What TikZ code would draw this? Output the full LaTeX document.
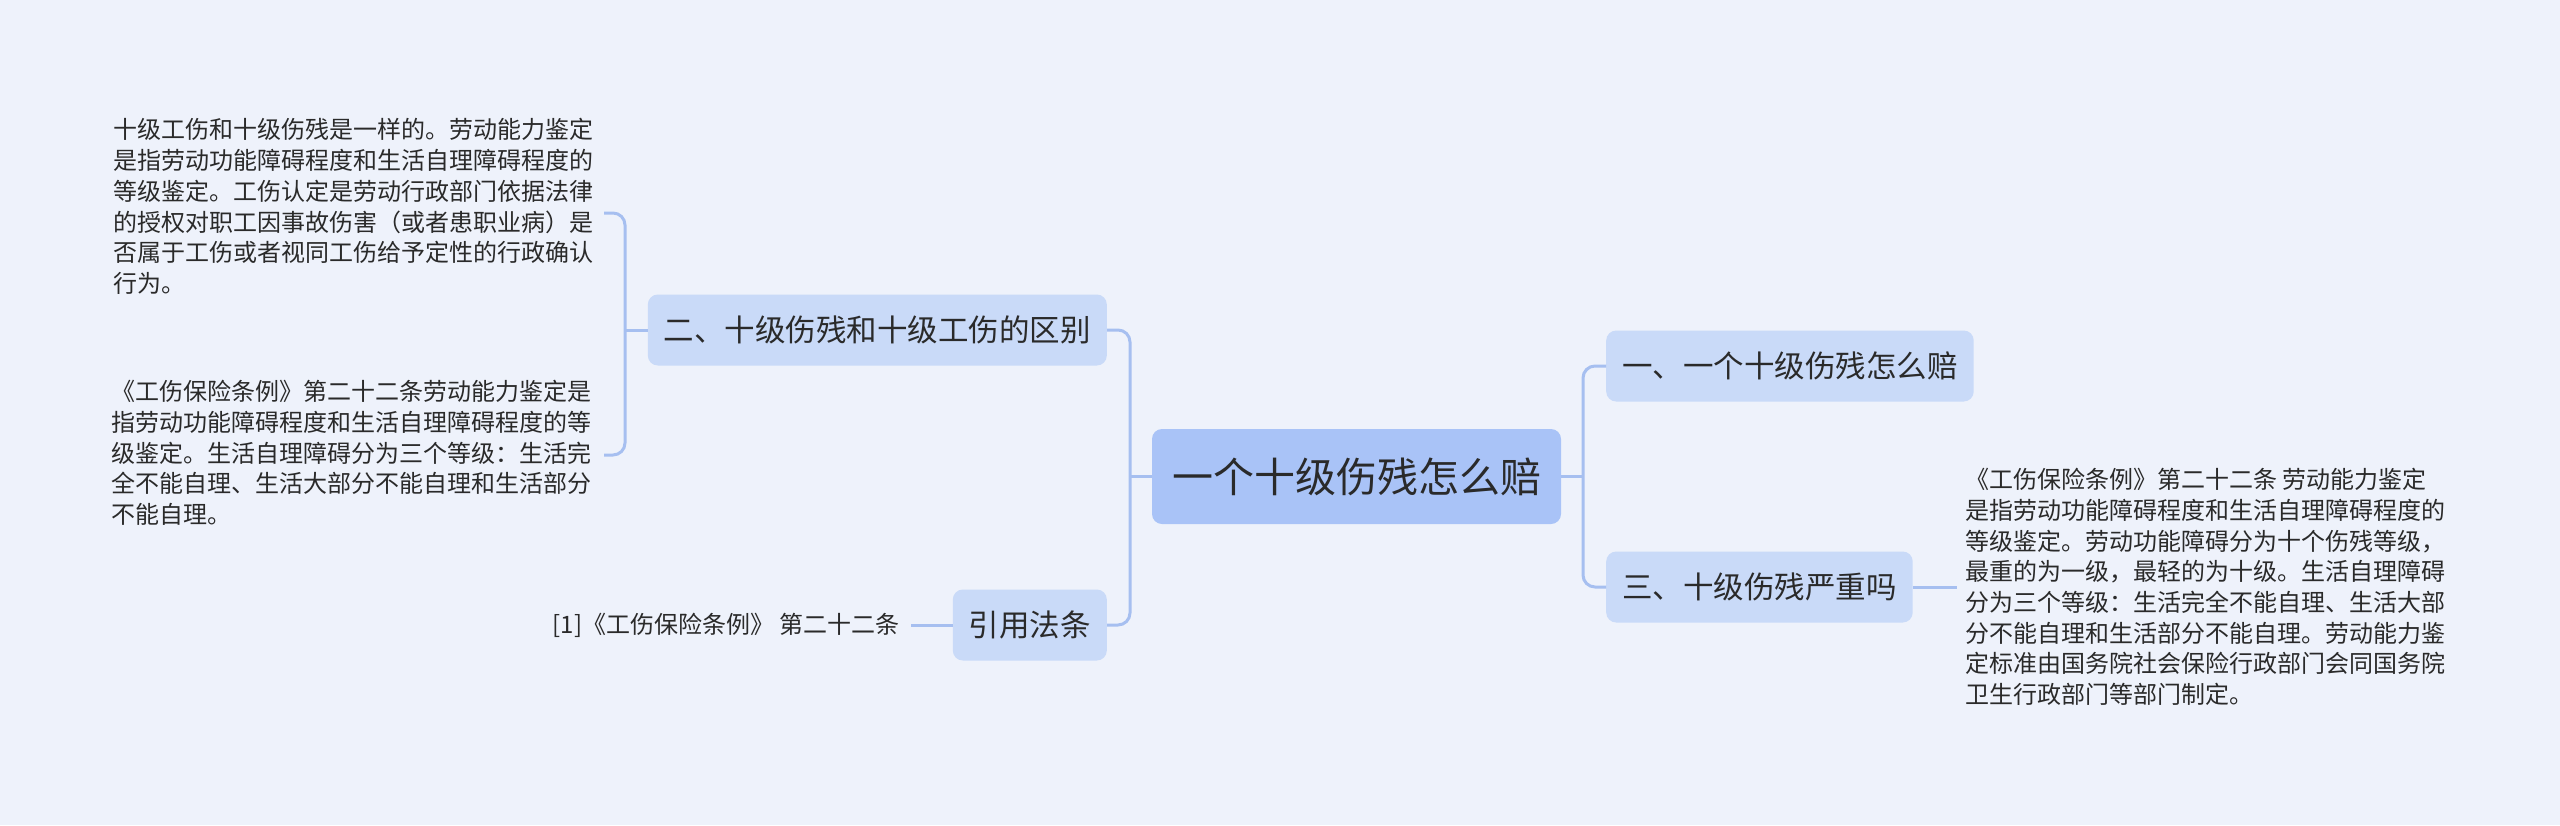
\documentclass[tikz,border=0pt]{standalone}
\usepackage{fontspec}
\setmainfont{Noto Sans CJK SC}
\definecolor{bg}{HTML}{EEF2FB}
\definecolor{rootfill}{HTML}{A9C3F7}
\definecolor{subfill}{HTML}{C9DAF8}
\definecolor{linec}{HTML}{A6BFF0}
\definecolor{txt}{HTML}{2A2A2A}
\begin{document}
\begin{tikzpicture}[x=1pt,y=-1pt,
  rootbox/.style={fill=rootfill,rounded corners=10pt,inner xsep=20pt,minimum height=95pt,text=txt,font=\fontsize{41}{48}\selectfont},
  subbox/.style={fill=subfill,rounded corners=10pt,inner xsep=16pt,minimum height=71pt,text=txt,font=\fontsize{30.5}{36}\selectfont},
  body/.style={align=left,inner sep=0pt,text=txt,font=\fontsize{24}{30.7}\selectfont},
  conn/.style={draw=linec,line width=3pt,rounded corners=12pt}]
\fill[bg] (0,0) rectangle (2560,825);
\useasboundingbox (0,0) rectangle (2560,825);

\node[rootbox] (root) at (1356.5,476.5) {一个十级伤残怎么赔};
\node[subbox,anchor=east] (n2) at (1107,330) {二、十级伤残和十级工伤的区别};
\node[subbox,anchor=east] (ref) at (1107,625) {引用法条};
\node[subbox,anchor=west] (n1) at (1606,366) {一、一个十级伤残怎么赔};
\node[subbox,anchor=west] (n3) at (1606,587) {三、十级伤残严重吗};

\node[body,anchor=west] (t1) at (113,206.5) {十级工伤和十级伤残是一样的。劳动能力鉴定\\是指劳动功能障碍程度和生活自理障碍程度的\\等级鉴定。工伤认定是劳动行政部门依据法律\\的授权对职工因事故伤害（或者患职业病）是\\否属于工伤或者视同工伤给予定性的行政确认\\行为。};
\node[body,anchor=west] (t2) at (111,453) {《工伤保险条例》第二十二条劳动能力鉴定是\\指劳动功能障碍程度和生活自理障碍程度的等\\级鉴定。生活自理障碍分为三个等级：生活完\\全不能自理、生活大部分不能自理和生活部分\\不能自理。};
\node[body,anchor=west] (t3) at (1965,587) {《工伤保险条例》第二十二条 劳动能力鉴定\\是指劳动功能障碍程度和生活自理障碍程度的\\等级鉴定。劳动功能障碍分为十个伤残等级，\\最重的为一级，最轻的为十级。生活自理障碍\\分为三个等级：生活完全不能自理、生活大部\\分不能自理和生活部分不能自理。劳动能力鉴\\定标准由国务院社会保险行政部门会同国务院\\卫生行政部门等部门制定。};
\node[body,anchor=east] (t4) at (900,625) {[1]《工伤保险条例》 第二十二条};

\coordinate (b1) at (604,213);
\coordinate (b2) at (604,455);
\coordinate (c3) at (1957,587);
\coordinate (c4) at (911,625);

\draw[conn] (n2.east) -- ++(23,0) |- (ref.east);
\draw[conn] (root.west) -- ++(-22,0);
\draw[conn] (n1.west) -- ++(-23,0) |- (n3.west);
\draw[conn] (root.east) -- ++(22,0);
\draw[conn] (b1) -- ++(21,0) |- (b2);
\draw[conn] (n2.west) -- ++(-23,0);
\draw[conn] (ref.west) -- (c4);
\draw[conn] (n3.east) -- (c3);
\end{tikzpicture}
\end{document}
